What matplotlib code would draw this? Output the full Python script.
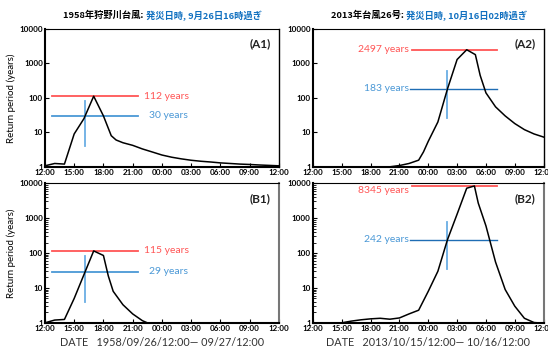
import matplotlib.pyplot as plt
from matplotlib.ticker import LogLocator, NullFormatter

plt.rcParams['font.family'] = ['Lato', 'Noto Sans CJK JP', 'DejaVu Sans']

# x axis is hours after 12:00 on the first day
time_ticks = [0, 3, 6, 9, 12, 15, 18, 21, 24]
time_labels = ['12:00', '15:00', '18:00', '21:00', '00:00', '03:00', '06:00', '09:00', '12:00']
y_ticks = [1, 10, 100, 1000, 10000]
y_labels = ['1', '10', '100', '1000', '10000']

# 1958 Kanogawa typhoon
a1_hours = [0, 1, 2, 3, 4, 5, 6, 6.8, 7.3, 8, 9, 10, 11, 12, 13, 14, 15, 16, 17, 18, 19, 20, 21, 22, 23, 24]
a1_vals = [1.07, 1.25, 1.2, 9, 25, 112, 30, 8, 6, 5, 4.2, 3.3, 2.7, 2.2, 1.9, 1.7, 1.55, 1.45, 1.38, 1.3, 1.25, 1.2, 1.17, 1.13, 1.1, 1.07]
b1_hours = [0, 1, 2, 3, 4, 5, 6, 6.5, 7, 8, 9, 10, 10.5, 11, 24]
b1_vals = [1.0, 1.2, 1.25, 5, 24, 115, 85, 22, 8, 3.3, 1.8, 1.15, 1.0, 0.97, 0.97]

# 2013 typhoon No.26
a2_hours = [7, 8, 9, 10, 11, 11.5, 12, 13, 14, 15, 16, 16.9, 17.4, 18, 19, 20, 21, 22, 23, 24]
a2_vals = [0.95, 1.0, 1.09, 1.25, 1.56, 2.7, 5.5, 20, 183, 1300, 2497, 1800, 450, 140, 55, 30, 18, 12, 9, 7.3]
b2_hours = [3, 4, 5, 6, 7, 8, 9, 10, 11, 12, 13, 14, 15, 16, 16.8, 17.2, 18, 19, 20, 21, 22, 23, 24]
b2_vals = [1.0, 1.12, 1.22, 1.3, 1.35, 1.27, 1.38, 1.8, 2.3, 8, 30, 242, 1300, 7200, 8345, 2700, 600, 55, 9, 3, 1.35, 1.02, 0.97]

peaks = [112, 2497, 115, 8345]
thresholds = [30, 183, 29, 242]
onset_hours = [4.08, 14.0, 4.08, 14.0]
panel_names = ['(A1)', '(A2)', '(B1)', '(B2)']

title_black = ['1958年狩野川台風: ', '2013年台風26号: ']
title_blue = ['発災日時, 9月26日16時過ぎ', '発災日時, 10月16日02時過ぎ']
date_labels = ['DATE   1958/09/26/12:00\u2015 09/27/12:00', 'DATE   2013/10/15/12:00\u2015 10/16/12:00']

series = [(a1_hours, a1_vals), (a2_hours, a2_vals), (b1_hours, b1_vals), (b2_hours, b2_vals)]

red = '#ff5555'
blue = '#4a98d6'
title_col = '#1070c0'

fig = plt.figure(figsize=(5.48, 3.49), dpi=100)
rects = [[0.082, 0.522, 0.427, 0.395], [0.571, 0.522, 0.421, 0.395],
         [0.082, 0.075, 0.427, 0.400], [0.571, 0.075, 0.421, 0.400]]

for i, (hrs, vals) in enumerate(series):
    ax = fig.add_axes(rects[i])
    ax.set_yscale('log')
    ax.set_ylim(1, 10000)
    ax.set_xlim(0, 24)
    left_side = i % 2 == 0

    # threshold lines and labels
    if left_side:
        ax.plot([0.7, 9.5], [peaks[i], peaks[i]], color=red, lw=1.3)
        ax.plot([0.7, 9.5], [thresholds[i], thresholds[i]], color=blue, lw=1.3)
        ax.text(10.2, peaks[i], f'{peaks[i]} years', color=red, fontsize=7.5, va='center', ha='left')
        ax.text(10.7, thresholds[i], f'{thresholds[i]} years', color=blue, fontsize=7.5, va='center', ha='left')
        v_lo, v_hi = thresholds[i] / 7.5, thresholds[i] * 2.8
    else:
        ax.plot([10.3, 19.2], [peaks[i], peaks[i]], color=red, lw=1.3)
        ax.plot([10.1, 19.2], [thresholds[i], thresholds[i]], color='#1f6db4', lw=1.0)
        ry = peaks[i] if peaks[i] < 5000 else peaks[i] * 0.72
        ax.text(10.0, ry, f'{peaks[i]} years', color=red, fontsize=7.5, va='center', ha='right')
        ax.text(9.95, thresholds[i], f'{thresholds[i]} years', color=blue, fontsize=7.5, va='center', ha='right')
        v_lo, v_hi = thresholds[i] / 6.8, thresholds[i] * 3.2
    ax.plot([onset_hours[i], onset_hours[i]], [v_lo, v_hi], color='#6aaee4', lw=1.3)

    ax.plot(hrs, vals, color='black', lw=1.1)

    ax.set_xticks(time_ticks)
    ax.set_xticklabels(time_labels, fontsize=5.8, fontweight='bold')
    ax.set_yticks(y_ticks)
    ax.set_yticklabels(y_labels, fontsize=5.8, fontweight='bold')
    ax.yaxis.set_minor_locator(LogLocator(base=10, subs=range(2, 10)))
    ax.yaxis.set_minor_formatter(NullFormatter())
    ax.tick_params(axis='both', which='major', direction='in', length=3, width=0.8, pad=1.5)
    ax.tick_params(axis='y', which='minor', direction='in', length=2, width=0.6)
    ax.spines['left'].set_linewidth(1.5)
    ax.spines['bottom'].set_linewidth(1.5)
    ax.spines['top'].set_linewidth(0.8)
    ax.spines['right'].set_linewidth(1.0)
    if i >= 2:
        ax.spines['right'].set_color('#777777')
        ax.spines['right'].set_linewidth(1.5)

    ax.text(0.965, 0.93, panel_names[i], transform=ax.transAxes, fontsize=8.5,
            fontweight='bold', ha='right', va='top', color='#222222')

    if left_side:
        ax.set_ylabel('Return period (years)', fontsize=7, labelpad=2)
    if i >= 2:
        ax.set_xlabel(date_labels[i - 2], fontsize=7.8, color='#333333', labelpad=4)
    if i < 2:
        t1 = fig.text(rects[i][0] + 0.033, 0.955, title_black[i], fontsize=6.7,
                      fontweight='bold', family='Noto Sans CJK JP', va='center')
        ax.annotate(title_blue[i], xy=(1, 0.5), xycoords=t1, va='center', ha='left',
                    fontsize=6.7, fontweight='bold', family='Noto Sans CJK JP', color=title_col)

fig.savefig('out.png', dpi=100)
